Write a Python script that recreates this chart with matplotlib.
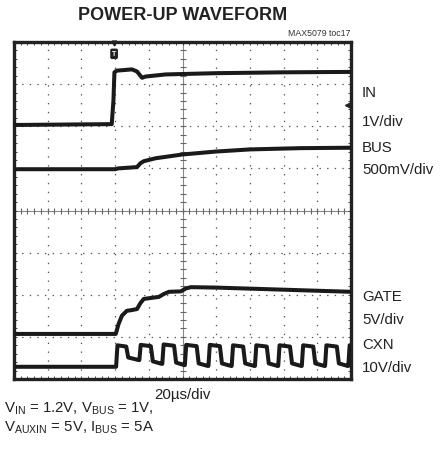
import numpy as np
import matplotlib
matplotlib.use("Agg")
import matplotlib.pyplot as plt

plt.rcParams['font.family'] = ['Liberation Sans', 'DejaVu Sans']
plt.rcParams['mathtext.fontset'] = 'custom'
plt.rcParams['mathtext.rm'] = 'Liberation Sans'
plt.rcParams['mathtext.it'] = 'Liberation Sans'

# ---- data (x in time divisions, y in screen divisions) ----
in_x = [0, 2.90, 2.95, 2.98, 3.05, 3.5, 3.65, 3.8, 3.9, 4.5, 6.0, 8.0, 10.0]
in_y = [6.03, 6.05, 6.6, 7.28, 7.32, 7.35, 7.30, 7.15, 7.18, 7.23, 7.26, 7.28, 7.29]

bus_x = [0, 3.0, 3.1, 3.65, 3.75, 3.85, 4.2, 5.0, 6.0, 7.0, 8.5, 10.0]
bus_y = [4.98, 4.98, 5.0, 5.03, 5.12, 5.17, 5.24, 5.33, 5.40, 5.45, 5.48, 5.49]

gate_x = [0, 3.02, 3.1, 3.2, 3.35, 3.45, 3.65, 3.75, 3.85, 4.3, 4.45, 4.6, 4.95, 5.1, 5.25, 6.0, 8.0, 10.0]
gate_y = [1.07, 1.07, 1.30, 1.50, 1.62, 1.63, 1.66, 1.80, 1.90, 1.95, 2.02, 2.07, 2.08, 2.15, 2.18, 2.17, 2.12, 2.07]

cxn_rise = [3.03, 3.72, 4.40, 5.07, 5.77, 6.46, 7.15, 7.84, 8.54, 9.23, 9.92]
cxn_fall = [3.33, 4.06, 4.75, 5.42, 6.11, 6.80, 7.50, 8.19, 8.88, 9.58]
cxn_high = [0.80, 0.81, 0.82, 0.81, 0.81, 0.80, 0.80, 0.80, 0.80, 0.80, 0.80]
cxn_low = [0.29, 0.45, 0.36, 0.33, 0.31, 0.31, 0.31, 0.31, 0.31, 0.31, 0.31]

labels = [("IN", 93), ("1V/div", 122), ("BUS", 148), ("500mV/div", 170),
          ("GATE", 297), ("5V/div", 320), ("CXN", 345), ("10V/div", 368)]

W, H = 443, 460
fig = plt.figure(figsize=(W/100, H/100), dpi=100)
L, R, T, B = 14, 351, 43, 380
ax = fig.add_axes([L/W, 1-B/H, (R-L)/W, (B-T)/H])
ax.set_xlim(0, 10)
ax.set_ylim(0, 8)

# grid
for gx in range(1, 10):
    if gx == 5:
        continue
    ax.axvline(gx, color='#555555', lw=0.9, ls=(0, (1.1, 6)), zorder=1)
for gy in range(1, 8):
    if gy == 4:
        continue
    ax.axhline(gy, color='#555555', lw=0.9, ls=(0, (1.1, 5)), zorder=1)
ax.axvline(5, color='#888888', lw=0.8, zorder=1)
ax.axhline(4, color='#888888', lw=0.8, zorder=1)
mx = np.arange(0.2, 10, 0.2)
my = np.arange(0.2, 8, 0.2)
ax.plot(mx, np.full_like(mx, 4), ls='none', marker='|', ms=4, mew=0.8, color='#666666', zorder=1)
ax.plot(np.full_like(my, 5), my, ls='none', marker='_', ms=4, mew=0.8, color='#666666', zorder=1)

# traces
lw = 2.9
tc = '#1a1a1a'
ax.plot(in_x, in_y, color=tc, lw=lw, zorder=3, solid_joinstyle='round')
ax.plot(bus_x, bus_y, color=tc, lw=lw, zorder=3, solid_joinstyle='round')
ax.plot(gate_x, gate_y, color=tc, lw=lw, zorder=3, solid_joinstyle='round')

cx = [0.0]
cy = [cxn_low[0]]
for i, r in enumerate(cxn_rise):
    cx += [r, r + 0.04]
    cy += [cxn_low[i], cxn_high[i]]
    if i < len(cxn_fall):
        f = cxn_fall[i]
        nxt = cxn_rise[i + 1]
        lo = cxn_low[i + 1]
        cx += [f, f + 0.06, nxt - 0.02]
        cy += [cxn_high[i] - 0.03, lo + 0.06, lo]
    else:
        cx += [10.0]
        cy += [cxn_high[i]]
ax.plot(cx, cy, color=tc, lw=lw, zorder=3, solid_joinstyle='round')

# markers
ax.text(2.97, 7.72, 'T', ha='center', va='center', color='white', fontsize=5, fontweight='bold',
        bbox=dict(boxstyle='round,pad=0.15', fc='#222222', ec='#222222'), zorder=4)
ax.plot([2.97], [7.97], marker='v', ms=3.5, color='#222222', clip_on=False, zorder=5)
ax.plot([9.9], [6.5], marker='<', ms=4, color='#222222', zorder=5)

# frame
for s in ax.spines.values():
    s.set_linewidth(2.4)
    s.set_color('#222222')
ax.set_xticks([])
ax.set_yticks([])
ax.set_xticks(np.arange(0.2, 10, 0.2), minor=True)
ax.set_yticks(np.arange(0.2, 8, 0.2), minor=True)
ax.tick_params(which='minor', direction='in', length=2.5, width=0.7, color='#444444',
               top=True, right=True, bottom=True, left=True,
               labelbottom=False, labelleft=False)

# texts
fig.text(183/W, 1-16/H, "POWER-UP WAVEFORM", ha='center', va='center', fontsize=13, fontweight='bold', color='#222222')
fig.text(351/W, 1-33/H, "MAX5079 toc17", ha='right', va='center', fontsize=6.3, color='#333333')
for txt, y in labels:
    fig.text(362/W, 1-y/H, txt, ha='left', va='center', fontsize=10.8, color='#222222')
fig.text(182/W, 1-395/H, "20µs/div", ha='center', va='center', fontsize=10.8, color='#222222')
fig.text(4/W, 1-409/H, r"V$_{\mathrm{IN}}$ = 1.2V, V$_{\mathrm{BUS}}$ = 1V,", ha='left', va='center', fontsize=10.8, color='#222222')
fig.text(4/W, 1-428/H, r"V$_{\mathrm{AUXIN}}$ = 5V, I$_{\mathrm{BUS}}$ = 5A", ha='left', va='center', fontsize=10.8, color='#222222')

fig.savefig("out.png", dpi=100)
